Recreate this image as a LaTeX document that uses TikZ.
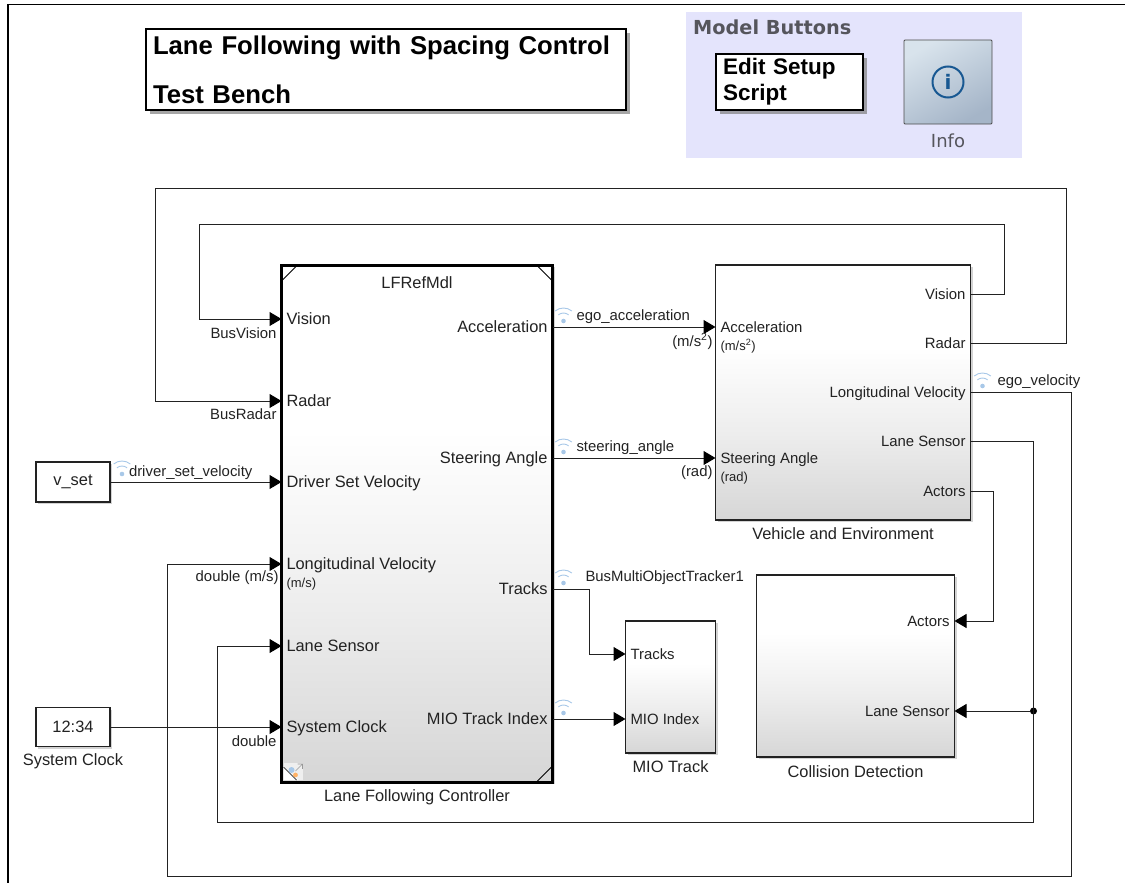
\documentclass[tikz,border=0pt]{standalone}
\usepackage{fontspec}
\setmainfont{Liberation Sans}
\newfontfamily\uifont{DejaVu Sans}
\usetikzlibrary{arrows.meta, positioning, shadows}
\definecolor{panelblue}{RGB}{228,228,252}
\definecolor{uigray}{RGB}{85,85,92}
\definecolor{infoblue}{RGB}{24,88,146}
\definecolor{infotop}{RGB}{216,227,236}
\definecolor{infobottom}{RGB}{165,181,200}
\definecolor{wifiblue}{RGB}{168,200,232}
\definecolor{inkgray}{RGB}{34,34,34}
\pgfdeclareverticalshading{blockshade}{100bp}{color(0bp)=(black!16); color(25bp)=(black!16); color(42bp)=(black!7); color(59bp)=(white); color(100bp)=(white)}
\begin{document}
\begin{tikzpicture}[
  x=1pt, y=-1pt,
  block/.style={draw=inkgray, line width=1.2pt, shading=blockshade, outer sep=0pt, inner sep=0pt,
                drop shadow={shadow xshift=2pt, shadow yshift=-2pt, opacity=0.35}},
  refblock/.style={block, draw=black, line width=3pt},
  source/.style={draw=inkgray, line width=1.2pt, fill=white, outer sep=0pt, inner sep=0pt, text=inkgray,
                 font=\fontsize{16.4}{18}\selectfont,
                 drop shadow={shadow xshift=2pt, shadow yshift=-2pt, opacity=0.35}},
  note/.style={draw=black, line width=1.2pt, fill=white, outer sep=0pt, inner sep=0pt, align=left,
               drop shadow={shadow xshift=4pt, shadow yshift=-4pt, opacity=0.7}},
  txt/.style={text=inkgray, inner xsep=5pt, inner ysep=0pt, outer sep=0pt, text height=13pt, text depth=1.5pt},
  inport/.style={txt, anchor=west, font=\fontsize{14.9}{16}\selectfont},
  outport/.style={txt, anchor=east, font=\fontsize{14.9}{16}\selectfont},
  biginport/.style={inport, font=\fontsize{16.4}{18}\selectfont},
  bigoutport/.style={outport, font=\fontsize{16.4}{18}\selectfont},
  unitlbl/.style={txt, font=\fontsize{13}{15}\selectfont},
  caption/.style={txt, inner xsep=0pt, font=\fontsize{16.4}{18}\selectfont},
  sigtext/.style={txt, inner xsep=0pt, font=\fontsize{14.9}{16}\selectfont},
  joint/.style={fill=black, circle, minimum size=7pt, inner sep=0pt, outer sep=0pt},
  sig/.style={draw=inkgray, line width=1pt},
  arr/.style={sig, -{Triangle[length=12pt, width=14pt, color=black]}},
  wifi/.pic={
    \fill[wifiblue] (0,0) circle (2.3pt);
    \draw[wifiblue, line width=0.9pt] (-130:8) arc[start angle=-130, end angle=-50, radius=8];
    \draw[wifiblue, line width=0.9pt] (-130:13) arc[start angle=-130, end angle=-50, radius=13];
  }
]

\useasboundingbox (0,0) rectangle (1125,883);
\draw[black, line width=1.6pt] (8,883) -- (8,4.5) -- (1125,4.5);

% Title and buttons
\node[note, minimum width=480pt, minimum height=81pt, text width=466pt,
      font=\fontsize{25.7}{49}\selectfont\bfseries] (title) at (386,69.5)
  {Lane Following with Spacing Control\\Test Bench};
\node[fill=panelblue, minimum width=336pt, minimum height=146pt, outer sep=0pt] (btnPanel) at (854,85) {};
\node[below right=8pt and 7pt of btnPanel.north west, inner sep=0pt, text=uigray,
      font=\uifont\fontsize{19.3}{22}\selectfont\bfseries] (btnTitle) {Model Buttons};
\node[note, minimum width=147pt, minimum height=56pt, text width=133pt,
      font=\fontsize{22.5}{26}\selectfont\bfseries] (editBtn) at (789.5,82) {Edit Setup\\Script};
\node[draw=black!70, line width=0.8pt, rounded corners=1pt, minimum width=88pt, minimum height=84pt, outer sep=0pt,
      shading=axis, top color=infotop, bottom color=infobottom, shading angle=30] (infoBtn) at (948,82) {};
\node[draw=infoblue, line width=2pt, circle, minimum size=31pt, inner sep=0pt, text=infoblue,
      font=\uifont\fontsize{20}{22}\selectfont\bfseries] (infoIcon) at (infoBtn) {i};
\node[below=10pt of infoBtn, inner sep=0pt, text=uigray, font=\uifont\fontsize{18}{20}\selectfont] (infoLbl) {Info};

% Blocks
\node[refblock, minimum width=271pt, minimum height=517pt] (ctrl) at (417,523.5) {};
\node[block, minimum width=255pt, minimum height=255pt, below right=0pt and 163pt of ctrl.north east] (veh) {};
\node[block, minimum width=90pt, minimum height=132pt, below right=356pt and 73pt of ctrl.north east] (mio) {};
\node[block, minimum width=198pt, minimum height=182pt, below right=310pt and 204pt of ctrl.north east] (coll) {};
\node[source, minimum width=74pt, minimum height=39pt] (clk) at (73,727) {12:34};
\node[source, minimum width=74pt, minimum height=40pt, above=205.5pt of clk] (vset) {v\_set};

% Block names
\node[caption, below=6pt of ctrl] (ctrlName) {Lane Following Controller};
\node[caption, below=6pt of veh] (vehName) {Vehicle and Environment};
\node[caption, below=6pt of mio] (mioName) {MIO Track};
\node[caption, below=7pt of coll] (collName) {Collision Detection};
\node[caption, below=6pt of clk] (clkName) {System Clock};
\node[caption, below=10pt of ctrl.north] (ctrlRef) {LFRefMdl};

% Corner marks of the reference block
\draw[black, line width=1pt] ([xshift=15pt,yshift=-1pt]ctrl.north west) -- ([yshift=-15pt,xshift=1pt]ctrl.north west);
\draw[black, line width=1pt] ([xshift=-15pt,yshift=-1pt]ctrl.north east) -- ([yshift=-15pt,xshift=-1pt]ctrl.north east);
\draw[black, line width=1pt] ([xshift=-15pt,yshift=1pt]ctrl.south east) -- ([yshift=15pt,xshift=-1pt]ctrl.south east);
\fill[white, opacity=0.6] ([xshift=2pt,yshift=2pt]ctrl.south west) rectangle ([xshift=21pt,yshift=19pt]ctrl.south west);
\fill[white] ([xshift=2pt,yshift=2pt]ctrl.south west) -- ([xshift=2pt,yshift=16pt]ctrl.south west) -- ([xshift=17pt,yshift=2pt]ctrl.south west) -- cycle;
\draw[black!70, line width=0.8pt] ([xshift=2pt,yshift=15pt]ctrl.south west) -- ([xshift=15pt,yshift=2pt]ctrl.south west);
\fill[wifiblue] ([xshift=10pt,yshift=12pt]ctrl.south west) circle (3pt);
\fill[orange!60] ([xshift=14pt,yshift=7pt]ctrl.south west) circle (2.4pt);
\draw[black!40, line width=0.6pt] ([xshift=14pt,yshift=11pt]ctrl.south west) -- ([xshift=21pt,yshift=18pt]ctrl.south west) -- ++(-5,0);
\draw[black!40, line width=0.6pt] ([xshift=21pt,yshift=18pt]ctrl.south west) -- ++(0,5);

% Ports of the controller
\node[biginport] (cVision) at ([yshift=-54pt]ctrl.north west) {Vision};
\node[biginport] (cRadar) at ([yshift=-136pt]ctrl.north west) {Radar};
\node[biginport] (cDriver) at ([yshift=-217pt]ctrl.north west) {Driver Set Velocity};
\node[biginport] (cLong) at ([yshift=-299pt]ctrl.north west) {Longitudinal Velocity};
\node[unitlbl, below right=3pt and 0pt of cLong.south west] (cLongUnit) {(m/s)};
\node[biginport] (cLane) at ([yshift=-381pt]ctrl.north west) {Lane Sensor};
\node[biginport] (cClock) at ([yshift=-462pt]ctrl.north west) {System Clock};
\node[bigoutport] (cAcc) at ([yshift=-62pt]ctrl.north east) {Acceleration};
\node[bigoutport] (cSteer) at ([yshift=-193pt]ctrl.north east) {Steering Angle};
\node[bigoutport] (cTracks) at ([yshift=-324pt]ctrl.north east) {Tracks};
\node[bigoutport] (cMio) at ([yshift=-454pt]ctrl.north east) {MIO Track Index};

% Ports of the vehicle
\node[inport] (vAcc) at ([yshift=-62pt]veh.north west) {Acceleration};
\node[unitlbl, below right=3pt and 0pt of vAcc.south west] (vAccUnit) {(m/s\textsuperscript{2})};
\node[inport] (vSteer) at ([yshift=-193pt]veh.north west) {Steering Angle};
\node[unitlbl, below right=3pt and 0pt of vSteer.south west] (vSteerUnit) {(rad)};
\node[outport] (vVision) at ([yshift=-29pt]veh.north east) {Vision};
\node[outport] (vRadar) at ([yshift=-78pt]veh.north east) {Radar};
\node[outport] (vLong) at ([yshift=-127pt]veh.north east) {Longitudinal Velocity};
\node[outport] (vLane) at ([yshift=-176pt]veh.north east) {Lane Sensor};
\node[outport] (vActors) at ([yshift=-226pt]veh.north east) {Actors};

% Ports of the small blocks
\node[inport] (mTracks) at ([yshift=-33pt]mio.north west) {Tracks};
\node[inport] (mIndex) at ([yshift=-98pt]mio.north west) {MIO Index};
\node[outport] (coActors) at ([yshift=-46pt]coll.north east) {Actors};
\node[outport] (coLane) at ([yshift=-136pt]coll.north east) {Lane Sensor};

% Corners of the long wires
\coordinate (visionCorner) at (199,224);
\coordinate (radarCorner) at (155,188);
\coordinate (longCorner) at (167,876);
\coordinate (laneCorner) at (217,822);
\node[joint, right=75.5pt of coLane.east] (laneDot) {};

% Arrows
\draw[arr] (vVision.east) -- ++(34,0) |- (visionCorner) |- (cVision.west);
\draw[arr] (vRadar.east) -- ++(96,0) |- (radarCorner) |- (cRadar.west);
\draw[arr] (vLong.east) -- ++(101,0) |- (longCorner) |- (cLong.west);
\draw[arr] (vLane.east) -- ++(63,0) |- (laneCorner) |- (cLane.west);
\draw[arr] (laneDot) -- (coLane.east);
\draw[arr] (vActors.east) -- ++(23,0) |- (coActors.east);
\draw[arr] (cAcc.east) -- (vAcc.west);
\draw[arr] (cSteer.east) -- (vSteer.west);
\draw[arr] (cTracks.east) -- ++(37,0) |- (mTracks.west);
\draw[arr] (cMio.east) -- (mIndex.west);
\draw[arr] (vset) -- (cDriver.west);
\draw[arr] (clk) -- (cClock.west);

% Signal names
\pic at ([xshift=11pt,yshift=6pt]cAcc.east) {wifi};
\pic at ([xshift=11pt,yshift=6pt]cSteer.east) {wifi};
\pic at ([xshift=11pt,yshift=6pt]cTracks.east) {wifi};
\pic at ([xshift=11pt,yshift=6pt]cMio.east) {wifi};
\pic at ([xshift=12pt,yshift=6pt]vLong.east) {wifi};
\pic at ([xshift=12pt,yshift=8pt]vset.east) {wifi};
\node[sigtext, above right=5pt and 24pt of cAcc.east] (sAcc) {ego\_acceleration};
\node[sigtext, above right=5pt and 24pt of cSteer.east] (sSteer) {steering\_angle};
\node[sigtext, above right=6pt and 33pt of cTracks.east] (sTracks) {BusMultiObjectTracker1};
\node[sigtext, above right=5pt and 27pt of vLong.east] (sLong) {ego\_velocity};
\node[sigtext, above right=4pt and 19pt of vset.east] (sDriver) {driver\_set\_velocity};
\node[sigtext, below left=6pt and 5pt of cVision.west] (sVision) {BusVision};
\node[sigtext, below left=5pt and 5pt of cRadar.west] (sRadar) {BusRadar};
\node[sigtext, below left=4pt and 3pt of cLong.west] (sLong2) {double (m/s)};
\node[sigtext, below left=6pt and 5pt of cClock.west] (sClock) {double};
\node[sigtext, below left=6pt and 3pt of vAcc.west] (sAccUnit) {(m/s\textsuperscript{2})};
\node[sigtext, below left=5pt and 3pt of vSteer.west] (sSteerUnit) {(rad)};

\end{tikzpicture}
\end{document}
